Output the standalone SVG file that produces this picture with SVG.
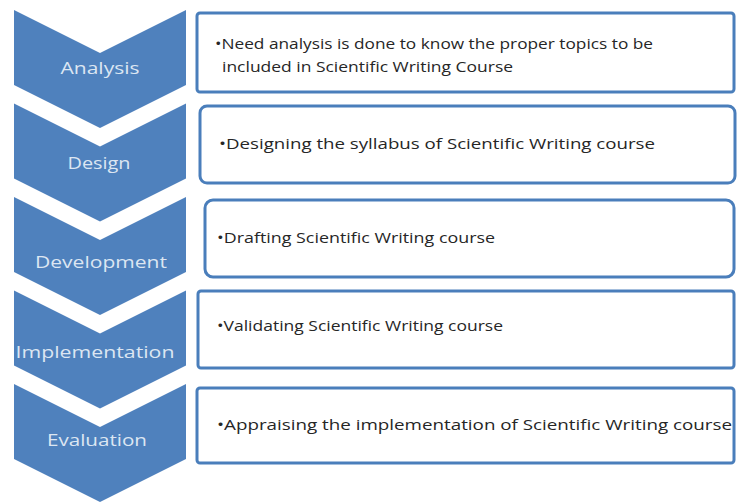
<svg xmlns="http://www.w3.org/2000/svg" width="737" height="504" viewBox="0 0 737 504">
<style>
.chev{fill:#4f81bd}
.lbl{font-family:"Open Sans","Liberation Sans",sans-serif;font-size:16.5px;fill:#dce6f2;text-anchor:middle}
.box{fill:#ffffff;stroke:#4a7ebb;stroke-width:3}
.txt{font-family:"Open Sans","Liberation Sans",sans-serif;font-size:14px;fill:#262626}
</style>
<rect width="737" height="504" fill="#ffffff"/>
<g id="connectors"/>
<g id="analysis">
<path class="chev" d="M14,10 L100,53 L186,10 L186,85 L100,128 L14,85 Z"/>
<text class="lbl" x="100" y="74" textLength="79" lengthAdjust="spacingAndGlyphs">Analysis</text>
</g>
<g id="analysis-detail">
<rect class="box" x="197" y="13" width="537" height="79" rx="3"/>
<text class="txt" x="215" y="49" textLength="438" lengthAdjust="spacingAndGlyphs">•Need  analysis is done to know the  proper topics to be</text>
<text class="txt" x="222" y="72" textLength="291" lengthAdjust="spacingAndGlyphs">included in Scientific Writing Course</text>
</g>
<g id="design">
<path class="chev" d="M14,103.5 L100,146.5 L186,103.5 L186,178.5 L100,221.5 L14,178.5 Z"/>
<text class="lbl" x="99" y="169" textLength="63" lengthAdjust="spacingAndGlyphs">Design</text>
</g>
<g id="design-detail">
<rect class="box" x="200" y="106" width="535" height="77" rx="7"/>
<text class="txt" x="219" y="149" textLength="436" lengthAdjust="spacingAndGlyphs">•Designing the  syllabus of Scientific Writing course</text>
</g>
<g id="development">
<path class="chev" d="M14,197 L100,240 L186,197 L186,272 L100,315 L14,272 Z"/>
<text class="lbl" x="101" y="268" textLength="132" lengthAdjust="spacingAndGlyphs">Development</text>
</g>
<g id="development-detail">
<rect class="box" x="205" y="200" width="529" height="77" rx="8"/>
<text class="txt" x="217" y="243" textLength="278" lengthAdjust="spacingAndGlyphs">•Drafting Scientific Writing course</text>
</g>
<g id="implementation">
<path class="chev" d="M14,290.5 L100,333.5 L186,290.5 L186,365.5 L100,408.5 L14,365.5 Z"/>
<text class="lbl" x="95" y="358" textLength="159" lengthAdjust="spacingAndGlyphs">Implementation</text>
</g>
<g id="implementation-detail">
<rect class="box" x="198" y="291" width="536" height="77" rx="3"/>
<text class="txt" x="217" y="331" textLength="286" lengthAdjust="spacingAndGlyphs">•Validating Scientific Writing course</text>
</g>
<g id="evaluation">
<path class="chev" d="M14,384 L100,427 L186,384 L186,459 L100,502 L14,459 Z"/>
<text class="lbl" x="97" y="446" textLength="100" lengthAdjust="spacingAndGlyphs">Evaluation</text>
</g>
<g id="evaluation-detail">
<rect class="box" x="197" y="388" width="537" height="75" rx="3"/>
<text class="txt" x="217" y="430" textLength="515" lengthAdjust="spacingAndGlyphs">•Appraising the implementation of  Scientific Writing course</text>
</g>
</svg>
